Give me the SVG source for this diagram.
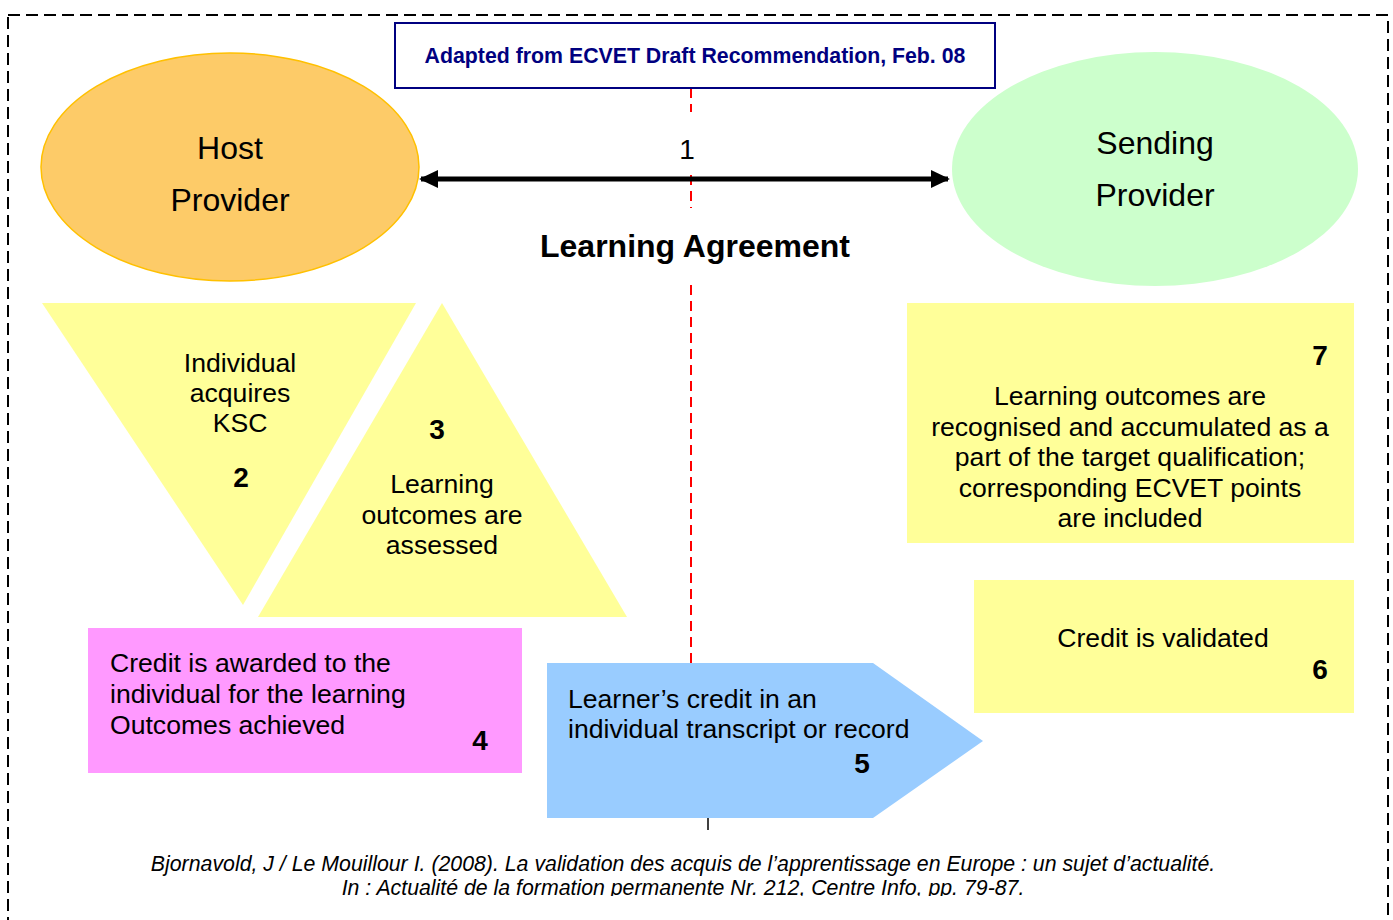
<svg xmlns="http://www.w3.org/2000/svg" width="1393" height="920" viewBox="0 0 1393 920">
<style>
text{font-family:"Liberation Sans",Arial,sans-serif;fill:#000}
.t26{font-size:26.6px}
.t31{font-size:32px}
.num{font-size:28px;font-weight:bold}
.mid{text-anchor:middle}
.yel{fill:#FFFF99}
.red{stroke:#FF0000;stroke-width:2;stroke-dasharray:10 6;fill:none}
.foot{font-size:21.3px;font-style:italic;text-anchor:middle}
</style>
<defs>
<marker id="ah" viewBox="0 0 10 10" refX="9" refY="5" markerWidth="3.8" markerHeight="3.6" orient="auto-start-reverse" markerUnits="strokeWidth" preserveAspectRatio="none">
<path d="M0,0 L10,5 L0,10 z" fill="#000"/>
</marker>
<clipPath id="clipb"><rect x="0" y="0" width="1393" height="896"/></clipPath>
</defs>
<rect x="8" y="15" width="1380" height="940" fill="none" stroke="#000" stroke-width="2" stroke-dasharray="12 6"/>

<g id="connectors">
<line class="red" x1="691" y1="88" x2="691" y2="112"/>
<line class="red" x1="691" y1="175" x2="691" y2="208"/>
<line class="red" x1="691" y1="285" x2="691" y2="663"/>
<line x1="708" y1="818" x2="708" y2="830" stroke="#000" stroke-width="1.5"/>
<line x1="421" y1="179" x2="948" y2="179" stroke="#000" stroke-width="5" marker-start="url(#ah)" marker-end="url(#ah)"/>
<text x="687" y="159" class="mid" style="font-size:28px">1</text>
<text x="695" y="257" class="mid" style="font-size:32px;font-weight:bold">Learning Agreement</text>
</g>

<g id="title">
<rect x="395" y="23" width="600" height="65" fill="#fff" stroke="#000080" stroke-width="2"/>
<text x="695" y="63" class="mid" style="font-size:21.3px;font-weight:bold;fill:#000080">Adapted from ECVET Draft Recommendation, Feb. 08</text>
</g>

<g id="host">
<ellipse cx="230" cy="167" rx="189" ry="114" fill="#FDCB68" stroke="#FFC000" stroke-width="1.5"/>
<text x="230" y="159" class="t31 mid">Host</text>
<text x="230" y="211" class="t31 mid">Provider</text>
</g>

<g id="sending">
<ellipse cx="1155" cy="169" rx="203" ry="117" fill="#CCFFCC"/>
<text x="1155" y="154" class="t31 mid">Sending</text>
<text x="1155" y="206" class="t31 mid">Provider</text>
</g>

<g id="step2">
<polygon class="yel" points="42,303 416,303 243,605"/>
<text x="240" y="372" class="t26 mid">Individual</text>
<text x="240" y="402" class="t26 mid">acquires</text>
<text x="240" y="432" class="t26 mid">KSC</text>
<text x="241" y="487" class="num mid">2</text>
</g>

<g id="step3">
<polygon class="yel" points="442,303 627,617 258,617"/>
<text x="437" y="439" class="num mid">3</text>
<text x="442" y="493" class="t26 mid">Learning</text>
<text x="442" y="524" class="t26 mid">outcomes are</text>
<text x="442" y="554" class="t26 mid">assessed</text>
</g>

<g id="step4">
<rect x="88" y="628" width="434" height="145" fill="#FF99FF"/>
<text x="110" y="672" class="t26">Credit is awarded to the</text>
<text x="110" y="703" class="t26">individual for the learning</text>
<text x="110" y="734" class="t26">Outcomes achieved</text>
<text x="480" y="750" class="num mid">4</text>
</g>

<g id="step5">
<polygon points="547,663 873,663 983,741 873,818 547,818" fill="#99CCFF"/>
<text x="568" y="708" class="t26">Learner’s credit in an</text>
<text x="568" y="738" class="t26">individual transcript or record</text>
<text x="862" y="773" class="num mid">5</text>
</g>

<g id="step6">
<rect x="974" y="580" width="380" height="133" class="yel"/>
<text x="1163" y="647" class="t26 mid">Credit is validated</text>
<text x="1320" y="679" class="num mid">6</text>
</g>

<g id="step7">
<rect x="907" y="303" width="447" height="240" class="yel"/>
<text x="1320" y="365" class="num mid">7</text>
<text x="1130" y="405" class="t26 mid">Learning outcomes are</text>
<text x="1130" y="436" class="t26 mid">recognised and accumulated as a</text>
<text x="1130" y="466" class="t26 mid">part of the target qualification;</text>
<text x="1130" y="497" class="t26 mid">corresponding ECVET points</text>
<text x="1130" y="527" class="t26 mid">are included</text>
</g>

<g id="footer" clip-path="url(#clipb)">
<text x="683" y="871" class="foot">Bjornavold, J / Le Mouillour I. (2008). La validation des acquis de l’apprentissage en Europe : un sujet d’actualité.</text>
<text x="683" y="895" class="foot">In : Actualité de la formation permanente Nr. 212, Centre Info, pp. 79-87.</text>
</g>
</svg>
